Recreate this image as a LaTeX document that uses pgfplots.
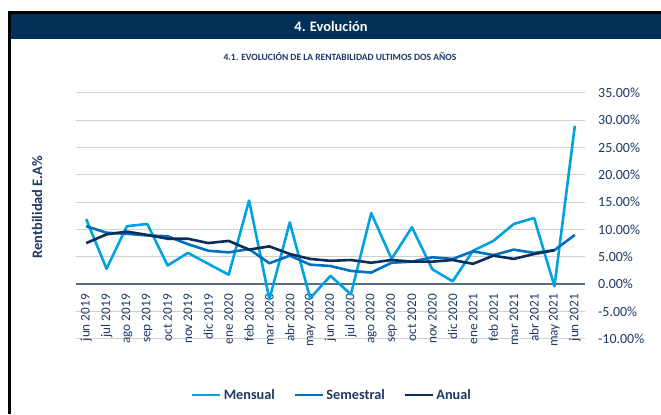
\documentclass[border=0pt]{standalone}
\usepackage{pgfplots}
\pgfplotsset{compat=1.18}
\usepackage{fontspec}
\setmainfont{Carlito}
\definecolor{cmens}{RGB}{0,163,224}
\definecolor{csem}{RGB}{0,112,192}
\definecolor{canu}{RGB}{12,45,87}
\definecolor{chead}{RGB}{0,48,87}
\definecolor{ctxt}{RGB}{31,56,100}
\definecolor{cgrid}{RGB}{208,208,208}
\definecolor{czero}{RGB}{90,110,133}
\begin{document}
\begin{tikzpicture}[x=1bp,y=1bp]
\path[use as bounding box] (0,0) rectangle (661,414);
\fill[chead] (11.3,374.7) rectangle (661,400);
\fill[black] (8,400) rectangle (661,403);
\fill[black] (8,0) rectangle (11.3,403);
\node[text=white,font=\bfseries\fontsize{14.5}{16}\selectfont] at (331,387.5) {4. Evolución};
\node[text=ctxt,font=\bfseries\fontsize{9.6}{11}\selectfont] at (340,357) {4.1. EVOLUCIÓN DE LA RENTABILIDAD ULTIMOS DOS AÑOS};
\node[text=ctxt,font=\bfseries\fontsize{14.5}{16}\selectfont,rotate=90] at (37,207) {Rentbilidad E.A\%};
\begin{axis}[
  at={(76bp,75.4bp)}, anchor=south west,
  scale only axis, width=509bp, height=245.6bp,
  xmin=-0.5, xmax=24.5, ymin=-10, ymax=35,
  axis line style={draw=none},
  major tick length=0pt,
  xtick={0,...,24},
  xticklabels={jun 2019, jul 2019, ago 2019, sep 2019, oct 2019, nov 2019, dic 2019, ene 2020, feb 2020, mar 2020, abr 2020, may 2020, jun 2020, jul 2020, ago 2020, sep 2020, oct 2020, nov 2020, dic 2020, ene 2021, feb 2021, mar 2021, abr 2021, may 2021, jun 2021},
  xticklabel style={rotate=90, anchor=east, font=\fontsize{13.3}{15}\selectfont, text=ctxt, inner sep=0pt},
  xticklabel shift=-44.6bp,
  ytick={-10,-5,5,10,15,20,25,30,35},
  extra y ticks={0},
  extra y tick style={grid style={czero, line width=1.4bp}},
  yticklabel pos=right,
  yticklabel={\pgfmathprintnumber[fixed,fixed zerofill,precision=2]{\tick}\%},
  yticklabel style={anchor=west, font=\fontsize{14}{16}\selectfont, text=ctxt, inner sep=0pt, xshift=13bp},
  /pgf/number format/assume math mode=true,
  ymajorgrids,
  grid style={cgrid, line width=1bp},
  clip=false,
  legend columns=3,
  legend style={at={(0.503,-0.2296)}, anchor=center, draw=none, fill=none,
    font=\bfseries\fontsize{14.3}{16}\selectfont, text=ctxt,
    /tikz/every even column/.append style={column sep=17bp}, inner sep=0pt},
  legend image code/.code={\draw[#1, line width=2.6bp] (0bp,0bp) -- (28bp,0bp);},
  every axis plot/.append style={line width=2.6bp, line join=round},
]
\addplot[cmens, mark=none] coordinates {
(0,11.9) (1,2.8) (2,10.6) (3,11.0) (4,3.4) (5,5.7) (6,3.7) (7,1.7) (8,15.3) (9,-2.8) (10,11.3) (11,-2.6) (12,1.5) (13,-1.9) (14,13.0) (15,4.6) (16,10.4) (17,2.7) (18,0.5) (19,6.1) (20,7.9) (21,11.0) (22,12.1) (23,-0.4) (24,29.0)};
\addlegendentry{Mensual}
\addplot[csem, mark=none] coordinates {
(0,10.6) (1,9.4) (2,9.2) (3,8.9) (4,8.75) (5,7.3) (6,6.1) (7,5.8) (8,6.4) (9,3.8) (10,5.2) (11,3.55) (12,3.3) (13,2.4) (14,2.1) (15,3.9) (16,4.1) (17,4.9) (18,4.6) (19,6.0) (20,5.3) (21,6.3) (22,5.7) (23,6.2) (24,9.0)};
\addlegendentry{Semestral}
\addplot[canu, mark=none] coordinates {
(0,7.5) (1,9.1) (2,9.6) (3,9.0) (4,8.3) (5,8.3) (6,7.5) (7,7.9) (8,6.3) (9,6.9) (10,5.5) (11,4.6) (12,4.25) (13,4.4) (14,3.9) (15,4.4) (16,4.1) (17,4.1) (18,4.4) (19,3.7) (20,5.2) (21,4.6) (22,5.5) (23,6.2)};
\addlegendentry{Anual}
\end{axis}
\end{tikzpicture}
\end{document}
